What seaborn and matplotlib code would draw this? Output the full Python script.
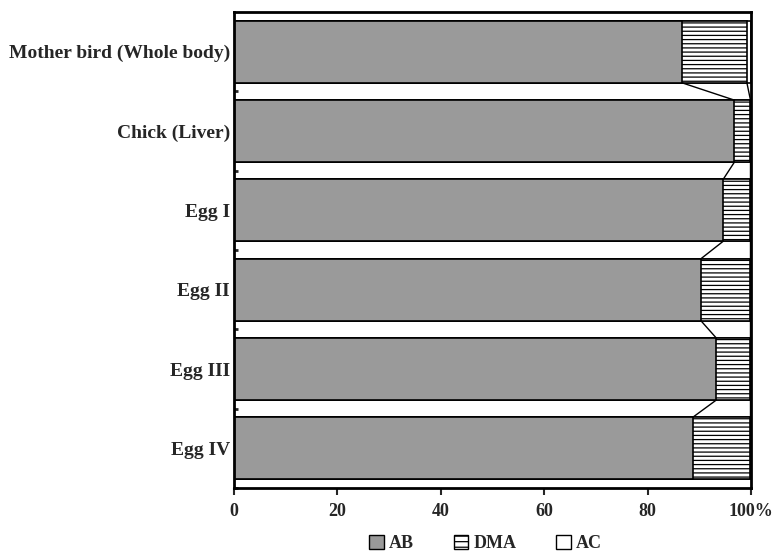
import numpy as np
import pandas as pd
import matplotlib
matplotlib.use("Agg")
import matplotlib.pyplot as plt
import seaborn as sns
from matplotlib.patches import Patch

# data (percent of total arsenic)
samples = ["Mother bird (Whole body)", "Chick (Liver)", "Egg I", "Egg II", "Egg III", "Egg IV"]
ab = [86.6, 96.8, 94.6, 90.3, 93.3, 88.7]
dma = [12.6, 3.1, 5.3, 9.6, 6.6, 11.2]
ac = [0.8, 0.1, 0.1, 0.1, 0.1, 0.1]
xticks = [0, 20, 40, 60, 80, 100]
xticklabels = ["0", "20", "40", "60", "80", "100%"]

df = pd.DataFrame({"sample": samples, "AB": ab, "DMA": dma, "AC": ac})
df["ab_end"] = df["AB"]
df["dma_end"] = df["AB"] + df["DMA"]
df["ac_end"] = df["AB"] + df["DMA"] + df["AC"]

sns.set_theme(style="white")
plt.rcParams["font.family"] = ["Liberation Serif", "DejaVu Serif"]
plt.rcParams["font.weight"] = "bold"
plt.rcParams["hatch.linewidth"] = 0.9

fig = plt.figure(figsize=(7.76, 5.51), dpi=100)
ax = fig.add_axes([0.3015, 0.1143, 0.6663, 0.8637])

w = 0.78
# stacked bars: draw back to front
sns.barplot(data=df, x="ac_end", y="sample", orient="h", color="white",
            edgecolor="black", linewidth=1.2, width=w, ax=ax)
n = len(ax.patches)
sns.barplot(data=df, x="dma_end", y="sample", orient="h", color="white",
            edgecolor="black", linewidth=1.2, width=w, ax=ax)
for p in ax.patches[n:]:
    p.set_hatch("----")
sns.barplot(data=df, x="ab_end", y="sample", orient="h", color="#9a9a9a",
            edgecolor="black", linewidth=1.2, width=w, ax=ax)

# series lines between bars
for col in ["ab_end", "dma_end"]:
    vals = df[col].values
    for i in range(len(vals) - 1):
        ax.plot([vals[i], vals[i + 1]], [i + w / 2, i + 1 - w / 2],
                color="black", lw=1.0)

ax.set_xlim(0, 100)
ax.set_ylim(len(samples) - 0.5, -0.5)
ax.set_xticks(xticks)
ax.set_xticklabels(xticklabels, fontsize=13, fontweight="bold")
ax.set_yticklabels(samples, fontsize=14, fontweight="bold")
ax.set_yticks(np.arange(len(samples)) + 0.5, minor=True)
ax.tick_params(axis="y", which="major", length=0, pad=3)
ax.tick_params(axis="y", which="minor", direction="in", length=3, width=2, left=True)
ax.tick_params(axis="x", direction="out", length=5, width=1.5, bottom=True, pad=6)
ax.set_xlabel("")
ax.set_ylabel("")
for s in ax.spines.values():
    s.set_linewidth(2)
    s.set_color("black")

handles = [Patch(facecolor="#9a9a9a", edgecolor="black", label="AB"),
           Patch(facecolor="white", edgecolor="black", hatch="---", label="DMA"),
           Patch(facecolor="white", edgecolor="black", label="AC")]
fig.legend(handles=handles, loc="center", bbox_to_anchor=(0.626, 0.013), ncol=3,
           frameon=False, handlelength=0.8, handleheight=0.8, handletextpad=0.3,
           columnspacing=2.2, prop={"size": 13, "weight": "bold"})

fig.savefig("out.png", dpi=100)
